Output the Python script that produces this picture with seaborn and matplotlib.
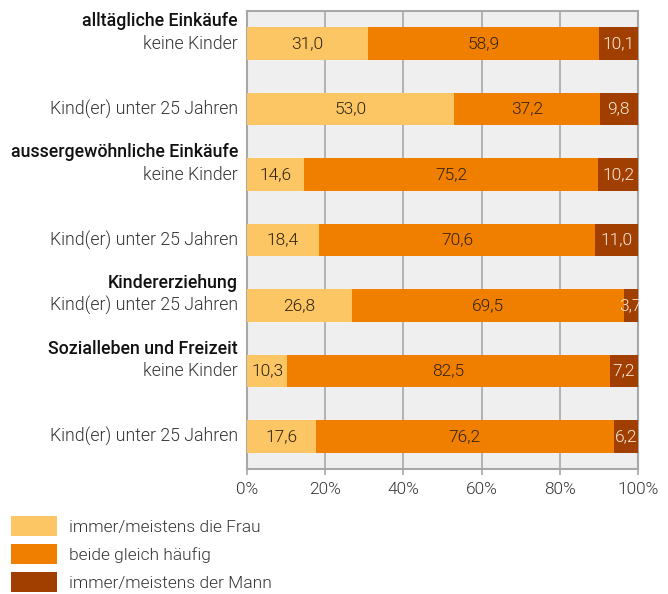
import matplotlib
matplotlib.use("Agg")
import matplotlib.pyplot as plt
import seaborn as sns
import pandas as pd
from matplotlib.patches import Patch

# data
rows = ["r0", "r1", "r2", "r3", "r4", "r5", "r6"]
labels = ["keine Kinder", "Kind(er) unter 25 Jahren",
          "keine Kinder", "Kind(er) unter 25 Jahren",
          "Kind(er) unter 25 Jahren",
          "keine Kinder", "Kind(er) unter 25 Jahren"]
headings = {0: "alltägliche Einkäufe", 2: "aussergewöhnliche Einkäufe",
            4: "Kindererziehung", 5: "Sozialleben und Freizeit"}
frau = [31.0, 53.0, 14.6, 18.4, 26.8, 10.3, 17.6]
beide = [58.9, 37.2, 75.2, 70.6, 69.5, 82.5, 76.2]
mann = [10.1, 9.8, 10.2, 11.0, 3.7, 7.2, 6.2]
series = ["immer/meistens die Frau", "beide gleich häufig", "immer/meistens der Mann"]
ticks = [0, 20, 40, 60, 80, 100]

colors = ["#fbc663", "#f07f00", "#a03f00"]
txt_cols = ["#2e2110", "#2e2110", "#f8ece2"]
LIGHT = 300

sns.set_theme(style="white")
plt.rcParams["font.family"] = ["Roboto", "DejaVu Sans"]

df = pd.DataFrame({"row": rows, "frau": frau, "beide": beide, "mann": mann})
df["c1"] = df["frau"]
df["c2"] = df["frau"] + df["beide"]
df["c3"] = df["c2"] + df["mann"]

fig = plt.figure(figsize=(6.68, 5.94), dpi=100)
ax = fig.add_axes([0.3698, 0.2104, 0.5853, 0.7711])
ax.set_facecolor("#efefef")

for col, c in zip(["c3", "c2", "c1"], colors[::-1]):
    sns.barplot(data=df, x=col, y="row", order=rows, orient="h", color=c,
                width=0.5, saturation=1, ax=ax, linewidth=0, zorder=3)

ax.set_xlim(0, 100)
ax.set_ylim(6.5, -0.5)
ax.set_xticks(ticks)
ax.set_xticklabels([f"{t}%" for t in ticks], fontsize=12.4, color="#333333",
                   fontweight=LIGHT)
ax.set_yticks([])
ax.set_xlabel("")
ax.set_ylabel("")
ax.xaxis.grid(True, color="#a8a8a8", linewidth=1.2, zorder=0)
ax.set_axisbelow(True)
ax.tick_params(axis="x", bottom=True, length=4, color="#a8a8a8", width=1.2, pad=5)
for s in ax.spines.values():
    s.set_color("#a8a8a8")
    s.set_linewidth(1.5)

# value labels
for i in range(len(rows)):
    starts = [0, frau[i], frau[i] + beide[i]]
    vals = [frau[i], beide[i], mann[i]]
    for k in range(3):
        ax.text(starts[k] + vals[k] / 2, i, f"{vals[k]:.1f}".replace(".", ","),
                ha="center", va="center", fontsize=12.5, color=txt_cols[k],
                fontweight=LIGHT, zorder=5)

# category labels
for i, lab in enumerate(labels):
    ax.annotate(lab, xy=(0, i), xycoords=("axes fraction", "data"),
                xytext=(-6.5, 0), textcoords="offset points",
                ha="right", va="center", fontsize=12.8, color="#333333",
                fontweight=LIGHT, annotation_clip=False)
for i, h in headings.items():
    ax.annotate(h, xy=(0, i), xycoords=("axes fraction", "data"),
                xytext=(-6.5, 16), textcoords="offset points",
                ha="right", va="center", fontsize=12.8, color="#111111",
                fontweight=500, annotation_clip=False)

handles = [Patch(facecolor=c, edgecolor="none") for c in colors]
fig.legend(handles, series, loc="upper left", bbox_to_anchor=(0.0165, 0.1313),
           frameon=False, handlelength=2.65, handleheight=1.39,
           labelspacing=0.46, handletextpad=0.7, labelcolor="#333333",
           borderaxespad=0, borderpad=0, prop={"weight": LIGHT, "size": 12.5})

fig.savefig("out.png", dpi=100)
